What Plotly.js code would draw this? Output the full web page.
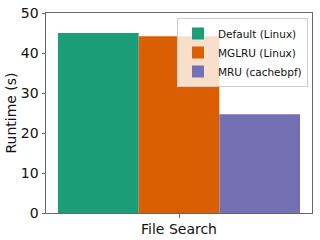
<!DOCTYPE html>
<html><head><meta charset="utf-8">
<script src="https://cdn.plot.ly/plotly-3.0.1.min.js"></script>
<style>html,body{margin:0;padding:0;background:#fff}#c{width:320px;height:240px}</style>
</head><body><div id="c"></div>
<script>
const categories = ['File Search'];
const seriesNames = ['Default (Linux)', 'MGLRU (Linux)', 'MRU (cachebpf)'];
const defaultLinux = [45.0];
const mglruLinux = [44.2];
const mruCachebpf = [24.7];
const colors = ['#1b9e77', '#d95f02', '#7570b3'];
const yTicks = [0, 10, 20, 30, 40, 50];

const values = [defaultLinux, mglruLinux, mruCachebpf];
const traces = values.map((v, i) => ({
  type: 'bar', x: categories, y: v, name: seriesNames[i],
  marker: {color: colors[i], line: {width: 0}}
}));

const font = {family: 'DejaVu Sans, sans-serif', size: 14, color: '#111'};
const layout = {
  width: 320, height: 240,
  margin: {l: 46, r: 8, t: 13, b: 27},
  barmode: 'group', bargap: 0.19, bargroupgap: 0,
  paper_bgcolor: '#fff', plot_bgcolor: '#fff',
  font: font,
  showlegend: true,
  legend: {x: 0.985, y: 0.975, xanchor: 'right', yanchor: 'top',
    bgcolor: 'rgba(255,255,255,0.8)', bordercolor: '#ccc', borderwidth: 1,
    font: {family: 'DejaVu Sans, sans-serif', size: 10.5, color: '#111'},
    tracegroupgap: 0, itemwidth: 30},
  xaxis: {type: 'category', range: [-0.445, 0.445], showline: true, mirror: true,
    linecolor: '#666', linewidth: 1, ticks: 'outside', ticklen: 3.5, tickcolor: '#666',
    showgrid: false, zeroline: false, tickfont: font},
  yaxis: {range: [0, 50], tickvals: yTicks, showline: true, mirror: true,
    linecolor: '#666', linewidth: 1, ticks: 'outside', ticklen: 3.5, tickcolor: '#666',
    showgrid: false, zeroline: false, tickfont: font,
    title: {text: 'Runtime (s)', font: font, standoff: 0}}
};
Plotly.newPlot('c', traces, layout, {staticPlot: true, displayModeBar: false});
</script></body></html>
